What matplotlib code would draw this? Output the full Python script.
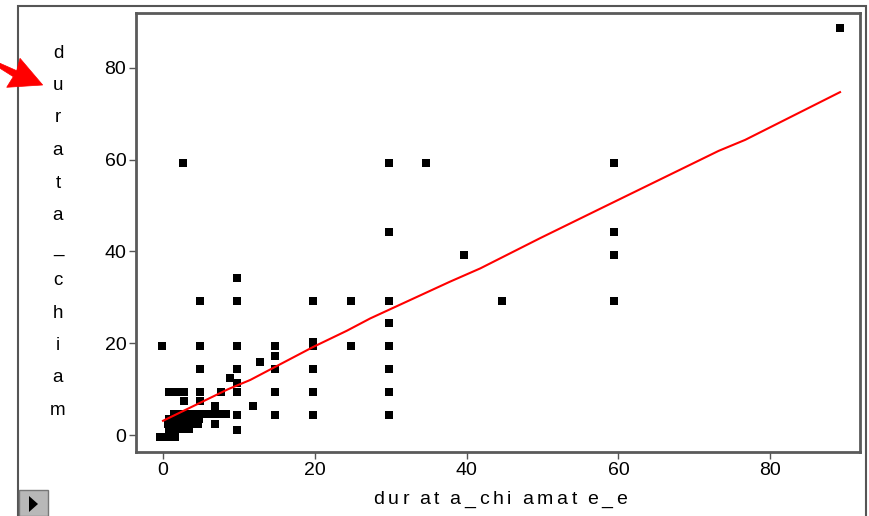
import matplotlib
matplotlib.use("Agg")
import matplotlib.pyplot as plt
from matplotlib.patches import Rectangle, Polygon
from matplotlib.font_manager import FontProperties

# scatter values
durata_chiamate_e = [
    89.2, 2.6, 29.8, 34.7, 59.4, 29.8, 59.4, 39.7, 59.4, 9.8,
    4.9, 9.8, 19.8, 24.8, 29.8, 44.7, 59.4, 29.8,
    -0.1, 4.9, 9.8, 14.8, 19.8, 19.8, 24.8, 29.8,
    14.8, 12.8, 4.9, 9.8, 14.8, 19.8, 29.8, 8.8, 9.8,
    0.8, 1.8, 2.8, 4.9, 7.7, 9.8, 14.8, 19.8, 29.8,
    2.7, 4.9, 6.9, 11.8,
    1.4, 2.4, 3.4, 4.4, 5.4, 6.4, 7.4, 8.3, 9.8, 14.8, 19.8, 29.8,
    0.8, 1.8, 2.8, 3.8, 4.8,
    0.6, 1.6, 2.6, 3.6, 4.6, 6.8,
    0.8, 1.8, 2.8, 3.4, 9.8,
    -0.4, 0.6, 1.6, 1.0,
]
durata_chiam = [
    88.7, 59.3, 59.2, 59.2, 59.2, 44.2, 44.2, 39.2, 39.2, 34.3,
    29.3, 29.3, 29.3, 29.3, 29.3, 29.3, 29.3, 24.3,
    19.4, 19.4, 19.4, 19.4, 19.4, 20.3, 19.4, 19.4,
    17.2, 16.0, 14.4, 14.4, 14.4, 14.4, 14.4, 12.5, 11.4,
    9.4, 9.4, 9.4, 9.4, 9.4, 9.4, 9.4, 9.4, 9.4,
    7.4, 7.4, 6.3, 6.3,
    4.6, 4.6, 4.6, 4.6, 4.6, 4.6, 4.6, 4.6, 4.4, 4.4, 4.4, 4.4,
    3.5, 3.5, 3.5, 3.5, 3.5,
    2.4, 2.4, 2.4, 2.4, 2.4, 2.5,
    1.4, 1.4, 1.4, 1.4, 1.1,
    -0.4, -0.4, -0.4, 0.5,
]

# smoothed fit line
fit_x = [0, 8.6, 11.5, 19.8, 24.2, 27.3, 37.8, 41.8, 49.7, 57.6, 62.8, 73.2, 76.7, 89.2]
fit_y = [3.1, 10.0, 12.0, 19.2, 22.7, 25.4, 33.4, 36.3, 42.9, 49.3, 53.5, 61.9, 64.3, 74.7]

x_ticks = [0, 20, 40, 60, 80]
y_ticks = [0, 20, 40, 60, 80]
y_label = "durata_chiam"
x_label = "dur at a_chi amat e_e"

W, H = 869, 516
plt.rcParams["font.family"] = ["Liberation Sans", "DejaVu Sans"]
fig = plt.figure(figsize=(W / 100, H / 100), dpi=100)

# outer panel frame
fig.patches.append(Rectangle((18 / W, -0.02), (866 - 18) / W, 1 - 6 / H + 0.02,
                             transform=fig.transFigure, fill=False,
                             edgecolor="#555555", lw=1.5))

ax = fig.add_axes([136 / W, 1 - 452 / H, (860 - 136) / W, (452 - 13) / H])
ax.plot(durata_chiamate_e, durata_chiam, "s", color="black", markersize=5.8,
        markeredgewidth=0)
ax.plot(fit_x, fit_y, color="red", lw=1.5)

ax.set_xlim(-3.56, 91.83)
ax.set_ylim(-3.70, 91.94)
ax.set_xticks(x_ticks)
ax.set_yticks(y_ticks)
ax.tick_params(labelsize=14, length=5, width=1, color="#555555", pad=2)
for s in ax.spines.values():
    s.set_color("#5a5a5a")
    s.set_linewidth(2)

# stacked vertical y label
for i, ch in enumerate(y_label):
    fig.text(58 / W, 1 - (53 + i * 32.5) / H, ch, fontsize=13.5,
             ha="center", va="center")

# x label is letter-spaced in the original, so lay it out char by char
fp = FontProperties(family="Liberation Sans", size=14)
renderer = fig.canvas.get_renderer()
widths = []
for c in x_label:
    w = renderer.get_text_width_height_descent(c, fp, ismath=False)[0]
    widths.append(w * 0.5 if c == " " else w)
x0, x1 = 373, 627
track = (x1 - x0 - sum(widths)) / (len(x_label) - 1)
xpos = x0
for c, w in zip(x_label, widths):
    fig.text(xpos / W, 1 - 500 / H, c, fontproperties=fp, ha="left", va="center")
    xpos += w + track

# red arrow pointing at the label
arrow = [(0, 63.3), (16.7, 70.7), (20, 58.3), (42.7, 85), (6.7, 87.3), (13.3, 76.7), (0, 68.3)]
fig.patches.append(Polygon([(px / W, 1 - py / H) for px, py in arrow], closed=True,
                           transform=fig.transFigure, facecolor="red", edgecolor="red",
                           lw=0.5))

# little play button bottom-left
fig.patches.append(Rectangle((19 / W, 0), 29 / W, 26 / H, transform=fig.transFigure,
                             facecolor="#b8b8b8", edgecolor="#777777", lw=1))
fig.patches.append(Polygon([(29 / W, 1 - 496 / H), (29 / W, 1 - 512 / H),
                            (38 / W, 1 - 504 / H)], closed=True,
                           transform=fig.transFigure, facecolor="black"))

plt.savefig("out.png", dpi=100)
plt.close()
